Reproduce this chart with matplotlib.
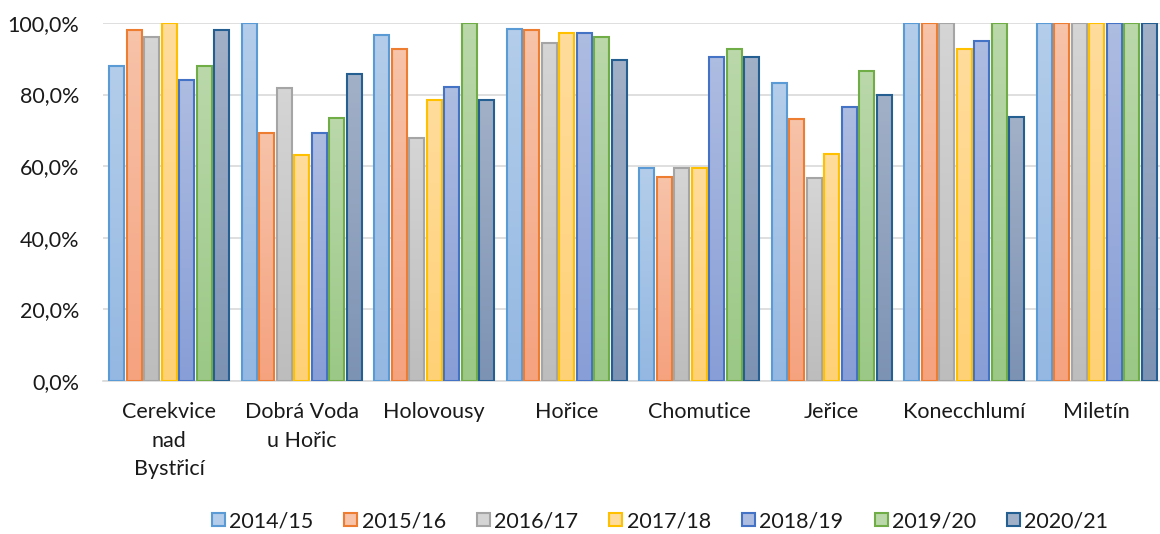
import numpy as np
import matplotlib.pyplot as plt
from matplotlib.patches import Patch
from matplotlib.colors import LinearSegmentedColormap
from matplotlib.ticker import FuncFormatter

# data
obce = ['Cerekvice\nnad\nBystřicí', 'Dobrá Voda\nu Hořic', 'Holovousy', 'Hořice',
        'Chomutice', 'Jeřice', 'Konecchlumí', 'Miletín']
roky = ['2014/15', '2015/16', '2016/17', '2017/18', '2018/19', '2019/20', '2020/21']
r2014 = [88.0, 100.0, 96.5, 98.2, 59.5, 83.3, 100.0, 100.0]
r2015 = [98.0, 69.3, 92.8, 97.9, 57.1, 73.3, 100.0, 100.0]
r2016 = [96.0, 81.7, 67.9, 94.5, 59.5, 56.6, 100.0, 100.0]
r2017 = [100.0, 63.2, 78.5, 97.2, 59.5, 63.3, 92.7, 100.0]
r2018 = [84.0, 69.3, 82.1, 97.2, 90.4, 76.6, 95.1, 100.0]
r2019 = [88.0, 73.5, 100.0, 96.2, 92.8, 86.6, 100.0, 100.0]
r2020 = [98.0, 85.7, 78.5, 89.7, 90.4, 80.0, 73.7, 100.0]
serie = [r2014, r2015, r2016, r2017, r2018, r2019, r2020]

# edge color, gradient top, gradient bottom
barvy = [('#5B9BD5', '#B3CDEA', '#94B8E2'),
         ('#ED7D31', '#F7C3A9', '#F5A27F'),
         ('#A5A5A5', '#D5D5D5', '#BDBDBD'),
         ('#FFC000', '#FFDC9C', '#FFD176'),
         ('#4472C4', '#ADBCE1', '#889ED6'),
         ('#70AD47', '#BAD8AA', '#9BC886'),
         ('#255E91', '#A2B0C7', '#7D93B4')]

plt.rcParams['font.family'] = ['Lato', 'DejaVu Sans']
fig = plt.figure(figsize=(11.6, 5.34), dpi=100)
ax = fig.add_axes([0.0888, 0.2865, 0.9138, 0.6705])

x = np.arange(len(obce))
step = 0.132
w = 0.113
for j, vals in enumerate(serie):
    edge, top, bot = barvy[j]
    cmap = LinearSegmentedColormap.from_list('g%d' % j, [bot, top])
    pos = x + (j - 3) * step
    bars = ax.bar(pos, np.array(vals) / 100, width=w, facecolor='none',
                  edgecolor=edge, linewidth=1.5, zorder=3)
    grad = np.linspace(0, 1, 64).reshape(-1, 1)
    for b in bars:
        x0 = b.get_x()
        h = b.get_height()
        im = ax.imshow(grad, cmap=cmap, origin='lower', aspect='auto',
                       extent=(x0, x0 + w, 0, h), zorder=2)
        im.set_clip_path(b)

ax.set_xlim(-0.5, 7.5)
ax.set_ylim(0, 1.0)
ax.set_yticks(np.arange(0, 1.01, 0.2))
ax.yaxis.set_major_formatter(FuncFormatter(lambda v, p: ('%.1f%%' % (v * 100)).replace('.', ',')))
ax.grid(axis='y', color='#D9D9D9', linewidth=1.2, zorder=0)
ax.set_axisbelow(True)
for s in ['left', 'right', 'top']:
    ax.spines[s].set_visible(False)
ax.spines['bottom'].set_color('#D9D9D9')
ax.spines['bottom'].set_linewidth(1.2)
ax.set_xticks(x)
ax.set_xticklabels(obce, fontsize=15.5, linespacing=1.55, color='#1a1a1a')
ax.tick_params(axis='x', length=0, pad=15)
ax.tick_params(axis='y', length=0, pad=17, labelsize=15.5, labelcolor='#1a1a1a')

handles = [Patch(facecolor=barvy[j][1], edgecolor=barvy[j][0], linewidth=1.5) for j in range(7)]
fig.legend(handles, roky, loc='center', bbox_to_anchor=(0.569, 0.024), ncol=7,
           frameon=False, fontsize=15.5, handlelength=0.6, handleheight=0.6,
           handletextpad=0.2, columnspacing=1.45, labelcolor='#1a1a1a')

fig.savefig('out.png', dpi=100)
